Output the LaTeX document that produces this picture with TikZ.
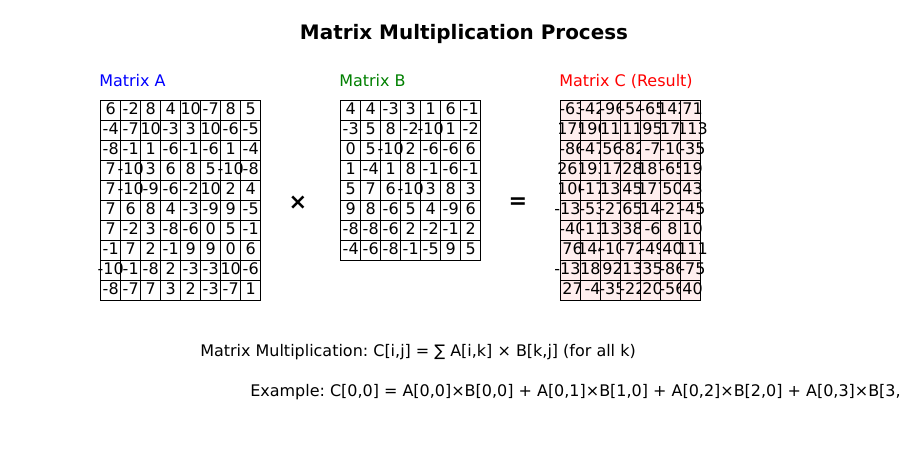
\documentclass[tikz,border=0pt]{standalone}
\usepackage{fontspec}
\setmainfont{DejaVu Sans}
\frenchspacing
\definecolor{cpink}{RGB}{255,238,238}
\definecolor{labA}{RGB}{0,0,255}
\definecolor{labB}{RGB}{0,128,0}
\definecolor{labC}{RGB}{255,0,0}
\begin{document}
\begin{tikzpicture}[x=0.72pt,y=-0.72pt,
  cellbox/.style={draw=black,line width=0.72pt,minimum width=14.4pt,minimum height=14.4pt,inner sep=0pt,outer sep=0pt},
  cellpink/.style={cellbox,fill=cpink},
  numtxt/.style={anchor=base,inner sep=0pt,font=\fontsize{11.5}{13}\selectfont},
  lab/.style={anchor=base west,inner sep=0pt,font=\fontsize{11.5}{14}\selectfont},
  optxt/.style={anchor=center,inner sep=0pt,font=\fontsize{16}{18}\selectfont\bfseries},
  note/.style={anchor=base west,inner sep=0pt,font=\fontsize{11.5}{14}\selectfont}]
\useasboundingbox (0,0) rectangle (900,450);
\clip (0,0) rectangle (900,450);
\fill[white] (0,0) rectangle (900,450);
% title
\node[anchor=base,inner sep=0pt,font=\fontsize{14.35}{16}\selectfont\bfseries] (title) at (464,39) {Matrix Multiplication Process};
% labels
\node[lab,text=labA] (labA) at (99,86) {Matrix A};
\node[lab,text=labB] (labB) at (339,86) {Matrix B};
\node[lab,text=labC] (labC) at (559,86) {Matrix C (Result)};
% Matrix A
\foreach \row [count=\r from 0] in {{6,-2,8,4,10,-7,8,5},{-4,-7,10,-3,3,10,-6,-5},{-8,-1,1,-6,-1,-6,1,-4},{7,-10,3,6,8,5,-10,-8},{7,-10,-9,-6,-2,10,2,4},{7,6,8,4,-3,-9,9,-5},{7,-2,3,-8,-6,0,5,-1},{-1,7,2,-1,9,9,0,6},{-10,-1,-8,2,-3,-3,10,-6},{-8,-7,7,3,2,-3,-7,1}}{
  \foreach \v [count=\c from 0] in \row {
    \node[cellbox] (A-\r-\c) at ({110+20*\c},{110+20*\r}) {};
  }
}
\foreach \row [count=\r from 0] in {{6,-2,8,4,10,-7,8,5},{-4,-7,10,-3,3,10,-6,-5},{-8,-1,1,-6,-1,-6,1,-4},{7,-10,3,6,8,5,-10,-8},{7,-10,-9,-6,-2,10,2,4},{7,6,8,4,-3,-9,9,-5},{7,-2,3,-8,-6,0,5,-1},{-1,7,2,-1,9,9,0,6},{-10,-1,-8,2,-3,-3,10,-6},{-8,-7,7,3,2,-3,-7,1}}{
  \foreach \v [count=\c from 0] in \row {
    \node[numtxt] (At-\r-\c) at ({110.7+20*\c},{114+20*\r}) {\v};
  }
}
% Matrix B
\foreach \row [count=\r from 0] in {{4,4,-3,3,1,6,-1},{-3,5,8,-2,-10,1,-2},{0,5,-10,2,-6,-6,6},{1,-4,1,8,-1,-6,-1},{5,7,6,-10,3,8,3},{9,8,-6,5,4,-9,6},{-8,-8,-6,2,-2,-1,2},{-4,-6,-8,-1,-5,9,5}}{
  \foreach \v [count=\c from 0] in \row {
    \node[cellbox] (B-\r-\c) at ({350+20*\c},{110+20*\r}) {};
  }
}
\foreach \row [count=\r from 0] in {{4,4,-3,3,1,6,-1},{-3,5,8,-2,-10,1,-2},{0,5,-10,2,-6,-6,6},{1,-4,1,8,-1,-6,-1},{5,7,6,-10,3,8,3},{9,8,-6,5,4,-9,6},{-8,-8,-6,2,-2,-1,2},{-4,-6,-8,-1,-5,9,5}}{
  \foreach \v [count=\c from 0] in \row {
    \node[numtxt] (Bt-\r-\c) at ({350.7+20*\c},{114+20*\r}) {\v};
  }
}
% Matrix C
\foreach \row [count=\r from 0] in {{-63,-42,-96,-54,-65,142,71},{175,190,-113,11,95,-178,113},{-86,-47,56,-82,-7,-10,-35},{261,193,17,28,187,-65,19},{100,-17,-133,45,177,50,43},{-134,-53,-27,65,-143,-21,-45},{-40,-11,-133,38,-6,8,10},{76,144,-10,-72,-49,40,111},{-133,-182,92,13,35,-86,-75},{27,-4,-35,-22,20,-56,40}}{
  \foreach \v [count=\c from 0] in \row {
    \node[cellpink] (C-\r-\c) at ({570+20*\c},{110+20*\r}) {};
  }
}
\foreach \row [count=\r from 0] in {{-63,-42,-96,-54,-65,142,71},{175,190,-113,11,95,-178,113},{-86,-47,56,-82,-7,-10,-35},{261,193,17,28,187,-65,19},{100,-17,-133,45,177,50,43},{-134,-53,-27,65,-143,-21,-45},{-40,-11,-133,38,-6,8,10},{76,144,-10,-72,-49,40,111},{-133,-182,92,13,35,-86,-75},{27,-4,-35,-22,20,-56,40}}{
  \foreach \v [count=\c from 0] in \row {
    \pgfmathsetmacro{\xl}{\c==0 ? 530 : 560+20*\c}
    \pgfmathsetmacro{\xr}{\c==6 ? 740 : 580+20*\c}
    \begin{scope}
      \clip (\xl,{100+20*\r}) rectangle (\xr,{120+20*\r});
      \node[numtxt] (Ct-\r-\c) at ({572.5+20*\c},{114+20*\r}) {\v};
    \end{scope}
  }
}
% redraw C grid lines on top
\foreach \r in {0,...,9}{
  \foreach \c in {0,...,6}{
    \draw[line width=0.72pt] (C-\r-\c.north west) rectangle (C-\r-\c.south east);
  }
}
% operators
\node[optxt] (times) at (298,203) {×};
\node[optxt] (equals) at (518,203) {=};
% notes
\node[note] (formula) at (200,356) {Matrix Multiplication: C[i,j] = ∑ A[i,k] × B[k,j] (for all k)};
\node[note] (example) at (250,396) {Example: C[0,0] = A[0,0]×B[0,0] + A[0,1]×B[1,0] + A[0,2]×B[2,0] + A[0,3]×B[3,0]};
\end{tikzpicture}
\end{document}
